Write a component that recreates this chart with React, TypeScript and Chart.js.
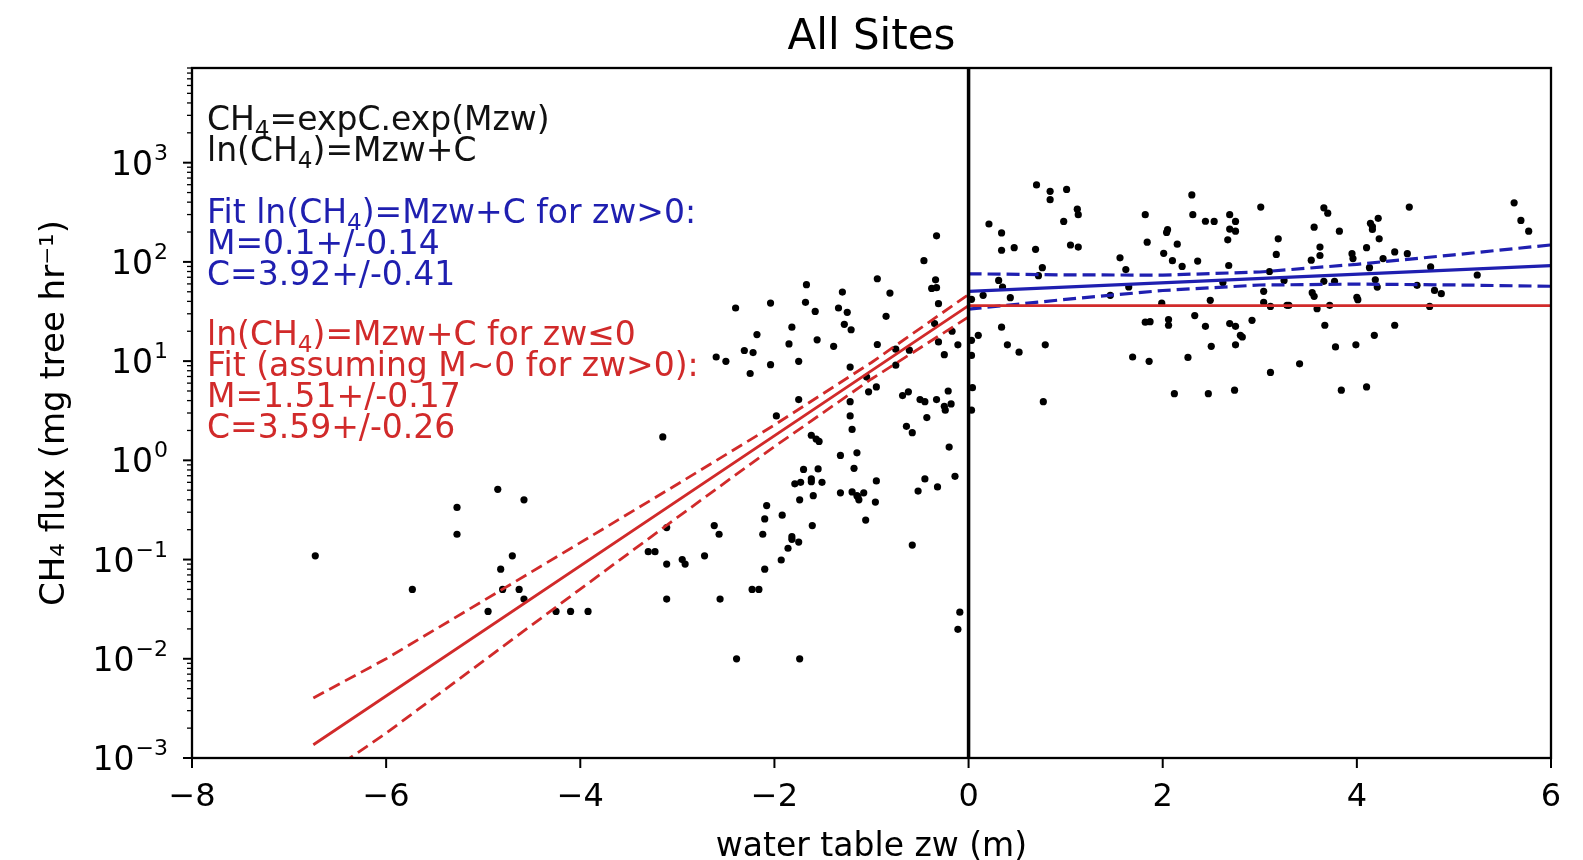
import React, { useEffect, useRef } from 'react';
import { Chart, registerables } from 'chart.js';

Chart.register(...registerables);

const FONT = '"DejaVu Sans", "Liberation Sans", sans-serif';
const BLUE = '#1f1fb0';
const RED = '#d12a2a';

const TITLE = 'All Sites';
const X_TITLE = 'water table zw (m)';
const Y_TITLE = 'CH₄ flux (mg tree hr⁻¹)';
const X_TICKS = [-8, -6, -4, -2, 0, 2, 4, 6];
const Y_TICK_VALUES = [1e-3, 1e-2, 1e-1, 1, 10, 100, 1000];
const Y_TICK_BASE = '10';
const Y_TICK_EXPONENTS = ['−3', '−2', '−1', '0', '1', '2', '3'];
const X_MIN = -8;
const X_MAX = 6;
const Y_MIN = 1e-3;
const Y_MAX = 9000;

const NOTE_GENERAL = ['CH_4=expC.exp(Mzw)', 'ln(CH_4)=Mzw+C'];
const NOTE_BLUE = ['Fit ln(CH_4)=Mzw+C for zw>0:', 'M=0.1+/-0.14', 'C=3.92+/-0.41'];
const NOTE_RED = ['ln(CH_4)=Mzw+C for zw≤0', 'Fit (assuming M~0 for zw>0):', 'M=1.51+/-0.17', 'C=3.59+/-0.26'];

// observations, water table below surface (zw <= 0)
const obsNeg: [number, number][] = [
  [-6.73, 0.109], [-5.73, 0.05], [-5.27, 0.335], [-5.27, 0.18], [-4.85, 0.51], [-4.58, 0.4],
  [-4.7, 0.109], [-4.82, 0.08], [-4.8, 0.05], [-4.63, 0.05], [-4.58, 0.04], [-4.95, 0.03],
  [-4.25, 0.03], [-4.1, 0.03], [-3.92, 0.03],
  [-3.15, 1.72], [-3.11, 0.21], [-3.3, 0.12], [-3.23, 0.12], [-3.11, 0.09], [-3.11, 0.04],
  [-2.95, 0.1], [-2.92, 0.09], [-2.72, 0.109], [-2.62, 0.22], [-2.57, 0.18], [-2.56, 0.04],
  [-2.39, 0.01], [-2.08, 0.35], [-2.1, 0.257], [-2.12, 0.18], [-2.1, 0.08], [-2.23, 0.05],
  [-2.16, 0.05], [-1.92, 0.28], [-1.82, 0.17], [-1.82, 0.16], [-1.75, 0.15], [-1.86, 0.13],
  [-1.93, 0.099], [-1.74, 0.01], [-1.7, 0.81], [-1.55, 0.82], [-1.79, 0.58], [-1.73, 0.6],
  [-1.62, 0.65], [-1.62, 0.61], [-1.51, 0.6], [-1.74, 0.4], [-1.6, 0.44], [-1.61, 0.22],
  [-1.62, 1.79], [-1.57, 1.64], [-1.54, 1.55], [-1.2, 2.05], [-1.32, 1.12], [-1.15, 1.19],
  [-1.18, 0.83], [-1.32, 0.47], [-1.2, 0.48], [-1.15, 0.44], [-1.13, 0.4], [-1.08, 0.47],
  [-1.14, 0.43], [-0.95, 0.62], [-0.96, 0.38], [-1.06, 0.25], [-0.64, 2.2], [-0.58, 1.9],
  [-0.45, 0.65], [-0.52, 0.49], [-0.32, 0.54], [-0.58, 0.14],
  [-0.2, 1.36], [-0.14, 0.69], [-0.09, 0.0295], [-0.11, 0.0198],
  [-2.4, 34.3], [-2.04, 38.5], [-1.67, 58.9], [-1.68, 39.1], [-1.58, 31.7], [-1.3, 49.6],
  [-1.34, 34.3], [-1.25, 31.0], [-1.28, 23.5], [-1.21, 20.7], [-0.94, 67.6], [-0.81, 48.5],
  [-0.85, 28.3], [-0.46, 103], [-0.33, 183], [-0.34, 66], [-0.38, 54], [-0.33, 55],
  [-0.31, 37.9], [-1.82, 22], [-2.18, 18.5], [-1.85, 14.9], [-1.56, 16.4], [-1.39, 14.1],
  [-0.94, 14.7], [-2.6, 11.0], [-2.5, 9.96], [-2.31, 12.8], [-2.22, 12.2], [-2.04, 9.2],
  [-1.75, 9.96], [-2.25, 7.5], [-1.22, 8.7], [-0.75, 9.1], [-0.75, 13.2], [-0.61, 12.9],
  [-1.05, 6.9], [-0.95, 5.5], [-1.03, 4.9], [-1.75, 4.1], [-1.22, 3.9], [-0.62, 4.9],
  [-0.68, 4.5], [-0.5, 4.1], [-0.45, 3.9], [-0.33, 4.1], [-1.22, 2.8], [-0.43, 2.7],
  [-1.98, 2.8],
  [-0.35, 23.9], [-0.17, 20], [-0.31, 15.6], [-0.11, 14.6], [-0.25, 11.6], [-0.21, 5.0],
  [-0.25, 3.5], [-0.18, 3.7], [-0.24, 3.2],
];

// observations, water table above surface (zw > 0)
const obsPos: [number, number][] = [
  [0.03, 16.2], [0.03, 11.4], [0.04, 5.4], [0.03, 3.2], [0.03, 42],
  [0.21, 241], [0.34, 196], [0.34, 131], [0.47, 139], [0.7, 597], [0.84, 514], [0.84, 424],
  [1.01, 537], [0.98, 256], [1.12, 340], [1.13, 299], [1.05, 148], [1.13, 141], [0.69, 134],
  [0.76, 87.5], [0.72, 72.6], [0.31, 65], [0.35, 55.7], [0.15, 46], [0.43, 43.6], [0.1, 18.2],
  [0.34, 22], [0.4, 14.6], [0.52, 12.3], [0.79, 14.6], [0.77, 3.9], [1.56, 110], [1.62, 83.6],
  [1.65, 56], [1.46, 46], [1.82, 299], [1.84, 158], [2.04, 198], [2.05, 211], [2.15, 151],
  [2.01, 122], [2.1, 103], [2.2, 90], [2.36, 102], [2.3, 473], [2.31, 299], [2.44, 257],
  [2.53, 256], [2.69, 299], [2.75, 256], [2.69, 214], [2.75, 204], [2.67, 167], [2.68, 92],
  [2.62, 62], [1.99, 38.4], [2.49, 41], [1.82, 24.7], [1.87, 25], [2.06, 26.2], [2.06, 23],
  [2.33, 28.8], [2.44, 22.4], [2.69, 23.9], [2.75, 22.4], [2.8, 18.2], [2.82, 17.5],
  [2.5, 14.1], [2.75, 14.6], [1.69, 11], [1.86, 9.96], [2.26, 10.9], [2.12, 4.7], [2.47, 4.7],
  [2.74, 5.1], [2.92, 25.8],
  [3.01, 357], [3.19, 171], [3.17, 119], [3.1, 80], [3.04, 50.5], [3.04, 39], [3.11, 35.6],
  [3.28, 36.5], [3.3, 36.5], [3.11, 7.7], [3.41, 9.4], [3.25, 65], [3.66, 351], [3.7, 310],
  [3.56, 224], [3.82, 204], [3.62, 141], [3.62, 116], [3.53, 104], [3.66, 63.7], [3.77, 63.7],
  [3.54, 49], [3.56, 45], [3.59, 33.7], [3.72, 36.5], [3.67, 23], [3.78, 13.9], [3.84, 5.1],
  [3.95, 121], [3.96, 108], [4.0, 44], [4.01, 41.6], [3.99, 14.6], [4.1, 5.5], [4.14, 245],
  [4.16, 212], [4.16, 227], [4.22, 275], [4.23, 171], [4.1, 139], [4.13, 87.5], [4.19, 66],
  [4.27, 108], [4.21, 55.7], [4.18, 18.2], [4.39, 126], [4.52, 121], [4.54, 357], [4.39, 23],
  [4.62, 58], [4.76, 89], [4.8, 51.6], [4.87, 47.8], [4.75, 35.6], [5.24, 73.8], [5.62, 394],
  [5.69, 262], [5.77, 204],
];

// fitted curves
const redFitX = [-6.75, 0, 6];
const redFitY = [0.00136, 36.2, 36.2];
const redBandX = [-6.75, -6, -5, -4, -3, -2, -1, 0];
const redUpperY = [0.00403, 0.01, 0.0384, 0.148, 0.574, 2.27, 9.69, 47.0];
const redLowerY = [0.000557, 0.00178, 0.00947, 0.0504, 0.266, 1.375, 6.61, 27.9];
const blueFitX = [0, 6];
const blueFitY = [50.4, 91.8];
const blueBandX = [0, 1, 2, 3, 4, 5, 6];
const blueUpperY = [75.9, 74.0, 73.6, 79.1, 94.6, 117.8, 148.4];
const blueLowerY = [33.4, 41.9, 51.5, 58.5, 59.7, 58.6, 56.8];

const toXY = (xs: number[], ys: number[]) => xs.map((x, i) => ({ x, y: ys[i] }));

function segs(line: string) {
  const out: { t: string; sub: boolean }[] = [];
  const parts = line.split(/_(.)/);
  parts.forEach((p, i) => {
    if (p) out.push({ t: p, sub: i % 2 === 1 });
  });
  return out;
}

function drawRich(ctx: CanvasRenderingContext2D, line: string, x: number, y: number, size: number, color: string) {
  let cx = x;
  ctx.fillStyle = color;
  ctx.textAlign = 'left';
  ctx.textBaseline = 'alphabetic';
  for (const s of segs(line)) {
    const sz = s.sub ? size * 0.7 : size;
    ctx.font = `${sz}px ${FONT}`;
    ctx.fillText(s.t, cx, y + (s.sub ? size * 0.2 : 0));
    cx += ctx.measureText(s.t).width;
  }
}

const framePlugin = {
  id: 'framePlugin',
  afterDraw(chart: any) {
    const { ctx, chartArea: a, scales } = chart;
    const ys = scales.y;
    const xs = scales.x;
    ctx.save();
    ctx.strokeStyle = '#000';
    // minor + major y ticks
    for (let k = -3; k <= 3; k++) {
      for (let m = 1; m <= 9; m++) {
        const v = m * Math.pow(10, k);
        if (v > Y_MAX) continue;
        const p = ys.getPixelForValue(v);
        const major = m === 1;
        ctx.lineWidth = major ? 2 : 1.3;
        ctx.beginPath();
        ctx.moveTo(a.left, p);
        ctx.lineTo(a.left - (major ? 9 : 5), p);
        ctx.stroke();
      }
    }
    ctx.lineWidth = 2;
    for (const v of X_TICKS) {
      const p = xs.getPixelForValue(v);
      ctx.beginPath();
      ctx.moveTo(p, a.bottom);
      ctx.lineTo(p, a.bottom + 10);
      ctx.stroke();
    }
    ctx.lineWidth = 2.3;
    ctx.strokeRect(a.left, a.top, a.right - a.left, a.bottom - a.top);

    // y tick labels: 10 with raised exponent
    ctx.fillStyle = '#000';
    ctx.textBaseline = 'alphabetic';
    ctx.textAlign = 'left';
    const baseSize = 33;
    const expSize = 22;
    const rightEdge = a.left - 25;
    Y_TICK_VALUES.forEach((v, i) => {
      const p = ys.getPixelForValue(v);
      ctx.font = `${expSize}px ${FONT}`;
      const ew = ctx.measureText(Y_TICK_EXPONENTS[i]).width;
      ctx.font = `${baseSize}px ${FONT}`;
      const bw = ctx.measureText(Y_TICK_BASE).width;
      const x0 = rightEdge - ew - bw;
      const base = p + 12;
      ctx.fillText(Y_TICK_BASE, x0, base);
      ctx.font = `${expSize}px ${FONT}`;
      ctx.fillText(Y_TICK_EXPONENTS[i], x0 + bw + 1, base - 15);
    });

    const size = 33;
    const x0 = 207;
    const gen = [130, 161];
    const blue = [223, 254, 285];
    const red = [345, 376, 407, 438];
    NOTE_GENERAL.forEach((l, i) => drawRich(ctx, l, x0, gen[i], size, '#111'));
    NOTE_BLUE.forEach((l, i) => drawRich(ctx, l, x0, blue[i], size, BLUE));
    NOTE_RED.forEach((l, i) => drawRich(ctx, l, x0, red[i], size, RED));
    ctx.restore();
  },
};

export default function App() {
  const ref = useRef<HTMLCanvasElement | null>(null);
  useEffect(() => {
    if (!ref.current) return;
    const lineDs = (label: string, data: any[], color: string, width: number, dash: number[] = []) => ({
      type: 'line' as const,
      label,
      data,
      borderColor: color,
      backgroundColor: color,
      borderWidth: width,
      borderDash: dash,
      pointRadius: 0,
      showLine: true,
      fill: false,
      tension: 0,
      order: 1,
    });
    const chart = new Chart(ref.current, {
      type: 'scatter',
      data: {
        datasets: [
          {
            type: 'scatter',
            label: 'obs zw<=0',
            data: obsNeg.map(([x, y]) => ({ x, y })),
            backgroundColor: '#000',
            borderWidth: 0,
            pointRadius: 3.6,
            order: 3,
          } as any,
          {
            type: 'scatter',
            label: 'obs zw>0',
            data: obsPos.map(([x, y]) => ({ x, y })),
            backgroundColor: '#000',
            borderWidth: 0,
            pointRadius: 3.6,
            order: 3,
          } as any,
          lineDs('zero', [{ x: 0, y: Y_MIN }, { x: 0, y: Y_MAX }], '#000', 3.5),
          lineDs('red fit', toXY(redFitX, redFitY), RED, 2.8),
          lineDs('red upper', toXY(redBandX, redUpperY), RED, 2.8, [12, 6]),
          lineDs('red lower', toXY(redBandX, redLowerY), RED, 2.8, [12, 6]),
          lineDs('blue fit', toXY(blueFitX, blueFitY), BLUE, 3.2),
          lineDs('blue upper', toXY(blueBandX, blueUpperY), BLUE, 3.2, [13, 6]),
          lineDs('blue lower', toXY(blueBandX, blueLowerY), BLUE, 3.2, [13, 6]),
        ] as any,
      },
      options: {
        animation: false,
        responsive: false,
        maintainAspectRatio: false,
        devicePixelRatio: 1,
        layout: { padding: { left: 0, right: 32, top: 0, bottom: 0 } },
        plugins: {
          legend: { display: false },
          tooltip: { enabled: false },
          title: {
            display: true,
            text: TITLE,
            fullSize: false,
            color: '#000',
            font: { family: FONT, size: 42, weight: 'normal', lineHeight: 1.2 },
            padding: { top: 13, bottom: 4.6 },
          },
        },
        scales: {
          x: {
            type: 'linear',
            min: X_MIN,
            max: X_MAX,
            afterBuildTicks: (s: any) => {
              s.ticks = X_TICKS.map((v) => ({ value: v }));
            },
            afterFit: (s: any) => {
              s.height = 102;
            },
            ticks: {
              autoSkip: false,
              maxRotation: 0,
              color: '#000',
              padding: 10,
              font: { family: FONT, size: 32 },
              callback: (v: any) => (Number(v) < 0 ? '−' + Math.abs(Number(v)) : String(v)),
            },
            grid: { display: false, drawTicks: true, tickLength: 10 },
            border: { display: false },
            title: {
              display: true,
              text: X_TITLE,
              color: '#000',
              font: { family: FONT, size: 33, lineHeight: 0.76 },
              padding: { top: 0, bottom: 0 },
            },
          },
          y: {
            type: 'logarithmic',
            min: Y_MIN,
            max: Y_MAX,
            afterBuildTicks: (s: any) => {
              s.ticks = Y_TICK_VALUES.map((v) => ({ value: v, major: true }));
            },
            afterFit: (s: any) => {
              s.width = 192;
            },
            ticks: { display: false },
            grid: { display: false, drawTicks: true, tickLength: 9 },
            border: { display: false },
            title: {
              display: true,
              text: Y_TITLE,
              color: '#000',
              font: { family: FONT, size: 34, lineHeight: 1 },
              padding: { top: 38, bottom: 0 },
            },
          },
        },
      } as any,
      plugins: [framePlugin],
    });
    return () => chart.destroy();
  }, []);
  return (
    <div style={{ position: 'fixed', left: 0, top: 0, width: 1583, height: 860, background: '#fff' }}>
      <canvas ref={ref} width={1583} height={860} style={{ display: 'block' }} />
    </div>
  );
}
